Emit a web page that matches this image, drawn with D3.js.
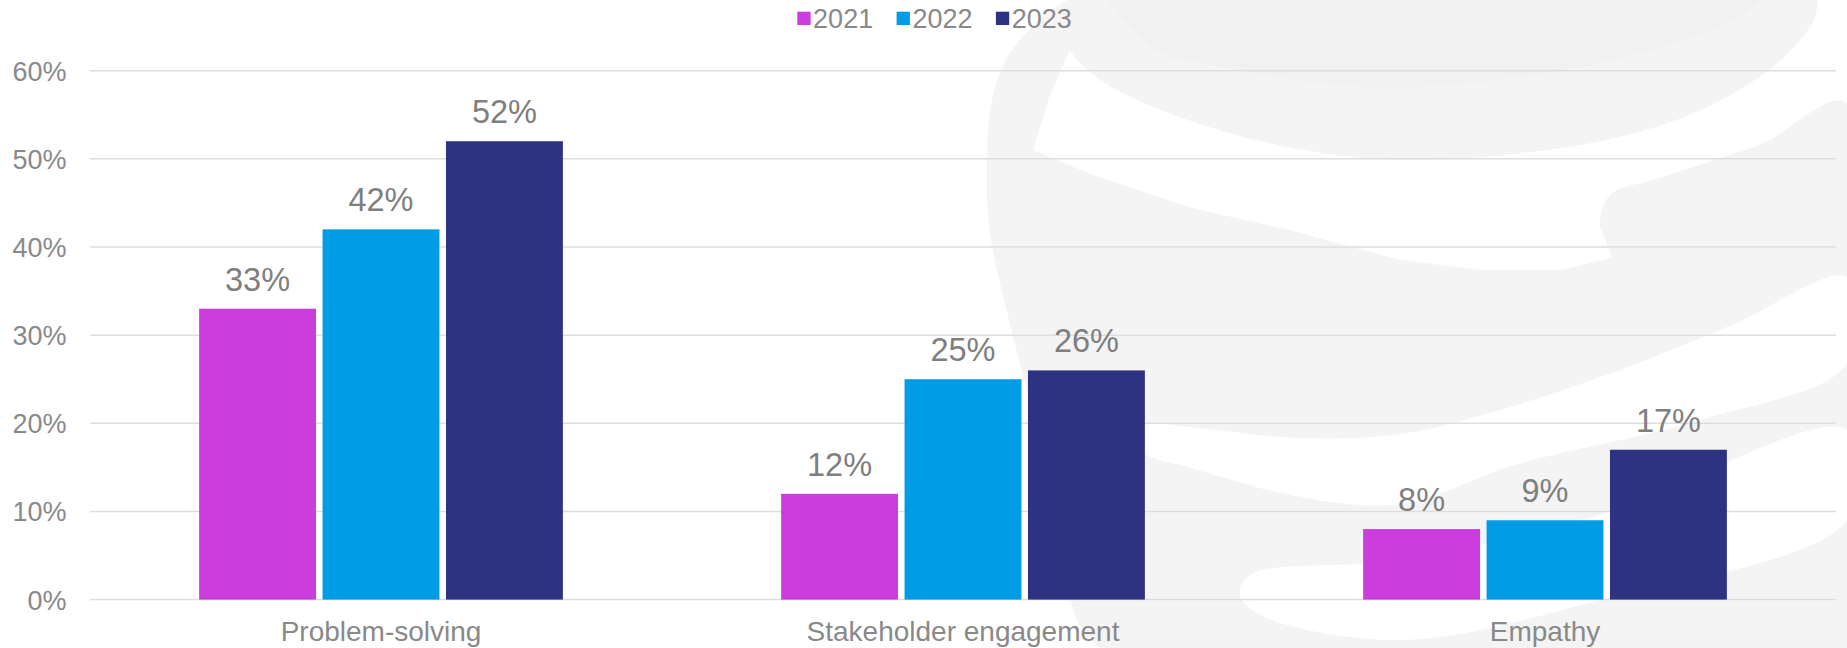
<!DOCTYPE html>
<html>
<head>
<meta charset="utf-8">
<script src="https://cdn.jsdelivr.net/npm/d3@7/dist/d3.min.js"></script>
<style>
  html, body { margin: 0; padding: 0; background: #ffffff; }
  svg { display: block; font-family: "Liberation Sans", Arial, sans-serif; }
</style>
</head>
<body>
<svg id="chart" width="1847" height="648"></svg>
<script>
// ---- data ----
const categories = ["Problem-solving", "Stakeholder engagement", "Empathy"];
const seriesNames = ["2021", "2022", "2023"];
const values2021 = [0.33, 0.12, 0.08];
const values2022 = [0.42, 0.25, 0.09];
const values2023 = [0.52, 0.26, 0.17];
const yTicks = [0, 0.1, 0.2, 0.3, 0.4, 0.5, 0.6];
const seriesColors = ["#CB3DDD", "#009DE6", "#2E3282"];

const seriesValues = [values2021, values2022, values2023];

// ---- layout ----
const W = 1847, H = 648;
const plot = { left: 90, right: 1836, top: 70.7, bottom: 599.6 };
const svg = d3.select("#chart");

// ---- background watermark (decorative) ----
const wm = svg.append("g").attr("class", "watermark");
const shape = d3.line().curve(d3.curveCatmullRomClosed.alpha(0.5));
const open = d3.line().curve(d3.curveCatmullRom.alpha(0.5));

const bodyPts = [[1068,0],[1012,50],[992,100],[987,167],[990,233],[1010,324],[1035,420],[1060,530],[1100,648],
                 [1847,648],[1847,103],[1760,145],[1660,178],[1610,195],[1600,225],[1612,258],[1560,270],
                 [1480,270],[1401,260],[1288,230],[1188,207],[1088,173],[1033,150],[1050,95],[1070,50],[1090,0]];
wm.append("path").attr("d", "M" + bodyPts.map(p => p.join(",")).join("L") + "Z")
  .attr("fill", "#f4f4f4");
wm.append("path").attr("d", shape(bodyPts)).attr("fill", "#f4f4f4");

const bowlPts = [[1075,0],[1066,28],[1070,50],[1105,83],[1188,120],[1288,147],[1401,160],[1568,147],
                 [1668,123],[1734,93],[1784,57],[1814,20],[1818,0]];
wm.append("path").attr("d", open(bowlPts) + "Z").attr("fill", "#f4f4f4");
const bowlInner = [[1108,0],[1155,50],[1222,67],[1322,83],[1401,88],[1601,63],[1734,20],[1761,0]];
wm.append("path").attr("d", open(bowlInner) + "Z").attr("fill", "#f1f1f1");

const stripe2 = [[1145,424],[1188,427],[1300,438],[1401,434],[1500,410],[1620,370],[1734,324],[1847,277],
                 [1847,364],[1700,420],[1518,464],[1401,504],[1300,497],[1188,467],[1145,454],[1135,440]];
wm.append("path").attr("d", shape(stripe2)).attr("fill", "#ffffff");

const stripe3 = [[1250,575],[1401,560],[1600,515],[1847,430],[1847,520],[1600,600],[1401,640],[1260,615],[1240,595]];
wm.append("path").attr("d", shape(stripe3)).attr("fill", "#ffffff");

// ---- scales ----
const x0 = d3.scaleBand().domain(categories).range([plot.left, plot.right])
  .paddingInner(0.375).paddingOuter(0.1875);
const x1 = d3.scaleBand().domain(seriesNames).range([0, x0.bandwidth()]).paddingInner(0.053);
const y = d3.scaleLinear().domain([0, 0.6]).range([plot.bottom, plot.top]);

const textGrey = "#898989";

// ---- gridlines ----
svg.append("g").selectAll("line").data(yTicks).join("line")
  .attr("x1", plot.left).attr("x2", plot.right)
  .attr("y1", d => y(d)).attr("y2", d => y(d))
  .attr("stroke", "#dedede").attr("stroke-width", 1.5);

// ---- y axis labels ----
const yAxis = d3.axisLeft(y).tickValues(yTicks).tickFormat(d3.format(".0%")).tickSize(0).tickPadding(0);
const yG = svg.append("g").attr("transform", "translate(66.5,0)").call(yAxis);
yG.select(".domain").remove();
yG.selectAll("text").attr("fill", textGrey).attr("font-size", 27)
  .attr("font-family", "'Liberation Sans', Arial, sans-serif").attr("dy", "0.35em");

// ---- x axis labels ----
const xAxis = d3.axisBottom(x0).tickSize(0).tickPadding(0);
const xG = svg.append("g").attr("transform", "translate(0,641)").call(xAxis);
xG.select(".domain").remove();
xG.selectAll("text").attr("fill", textGrey).attr("font-size", 28)
  .attr("font-family", "'Liberation Sans', Arial, sans-serif").attr("dy", "0");

// ---- bars ----
const groups = svg.append("g").selectAll("g").data(categories).join("g")
  .attr("transform", c => `translate(${x0(c)},0)`);

groups.each(function(c, ci) {
  const g = d3.select(this);
  const rows = seriesNames.map((s, si) => ({ s, si, v: seriesValues[si][ci] }));
  g.selectAll("rect").data(rows).join("rect")
    .attr("x", d => x1(d.s)).attr("width", x1.bandwidth())
    .attr("y", d => y(d.v)).attr("height", d => y(0) - y(d.v))
    .attr("fill", d => seriesColors[d.si]);
  g.selectAll("text").data(rows).join("text")
    .attr("x", d => x1(d.s) + x1.bandwidth() / 2)
    .attr("y", d => y(d.v) - 18)
    .attr("text-anchor", "middle")
    .attr("font-size", 32.5)
    .attr("fill", "#7f7f7f")
    .text(d => d3.format(".0%")(d.v));
});

// ---- legend ----
const legendX = 797.3, legendStep = 99.3, sw = 13.3;
const leg = svg.append("g").selectAll("g").data(seriesNames).join("g")
  .attr("transform", (d, i) => `translate(${legendX + i * legendStep},11.7)`);
leg.append("rect").attr("width", sw).attr("height", sw).attr("fill", (d, i) => seriesColors[i]);
leg.append("text").attr("x", sw + 2.5).attr("y", 15.8).attr("font-size", 27)
  .attr("fill", textGrey).text(d => d);
</script>
</body>
</html>
